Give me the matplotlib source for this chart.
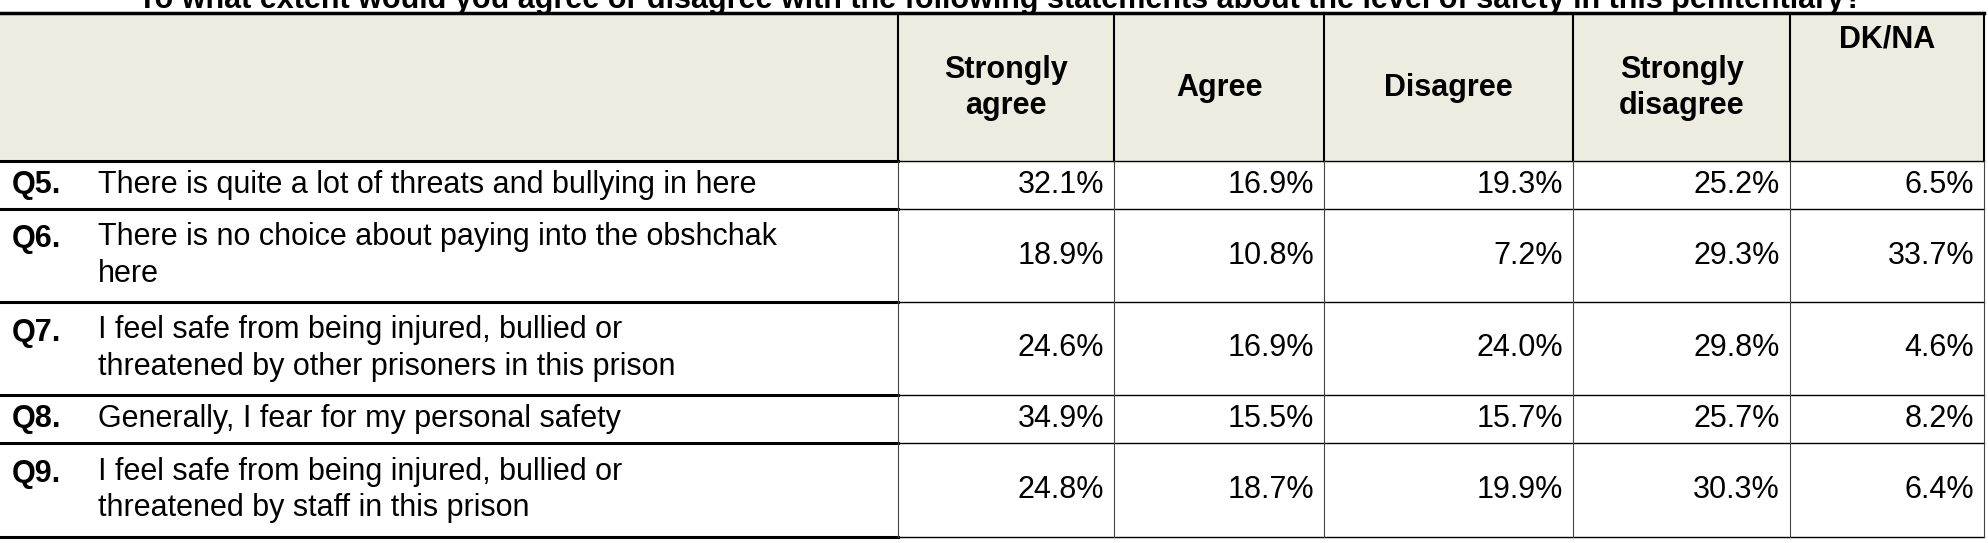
import matplotlib.pyplot as plt

plt.rcParams['font.family'] = ['Liberation Sans Narrow', 'Liberation Sans', 'DejaVu Sans']

title = "To what extent would you agree or disagree with the following statements about the level of safety in this penitentiary?"
columns = ["Strongly\nagree", "Agree", "Disagree", "Strongly\ndisagree", "DK/NA"]
qnums = ["Q5.", "Q6.", "Q7.", "Q8.", "Q9."]
questions = [
    "There is quite a lot of threats and bullying in here",
    "There is no choice about paying into the obshchak\nhere",
    "I feel safe from being injured, bullied or\nthreatened by other prisoners in this prison",
    "Generally, I fear for my personal safety",
    "I feel safe from being injured, bullied or\nthreatened by staff in this prison",
]
strongly_agree = [32.1, 18.9, 24.6, 34.9, 24.8]
agree = [16.9, 10.8, 16.9, 15.5, 18.7]
disagree = [19.3, 7.2, 24.0, 15.7, 19.9]
strongly_disagree = [25.2, 29.3, 29.8, 25.7, 30.3]
dkna = [6.5, 33.7, 4.6, 8.2, 6.4]
values = [strongly_agree, agree, disagree, strongly_disagree, dkna]

# layout in pixels
xcols = [0, 898, 1114, 1324, 1573, 1790, 1984]
ytop, yhead = 13, 161
yrows = [161, 209, 302, 395, 443, 537]
fs = 22

fig = plt.figure(figsize=(19.88, 5.43), dpi=100)
ax = fig.add_axes([0, 0, 1, 1])
ax.set_xlim(0, 1988)
ax.set_ylim(543, 0)
ax.axis('off')

ax.text(1000, 0, title, fontsize=fs, fontweight='bold', ha='center', va='center')
ax.fill_between([xcols[0], xcols[-1]], ytop, yhead, color='#EEECE1', zorder=0)

# header labels
for i, c in enumerate(columns):
    xc = (xcols[i + 1] + xcols[i + 2]) / 2
    yc = 40 if c == "DK/NA" else 88
    ax.text(xc, yc, c, fontsize=fs, fontweight='bold', ha='center', va='center',
            linespacing=1.3)

# rows
for r in range(len(questions)):
    yc = (yrows[r] + yrows[r + 1]) / 2
    nlines = questions[r].count('\n') + 1
    ytxt = yc - (nlines - 1) * 16
    ax.text(12, ytxt, qnums[r], fontsize=fs, fontweight='bold', ha='left', va='center')
    ax.text(98, yc, questions[r], fontsize=fs, ha='left', va='center', linespacing=1.3)
    for c in range(len(values)):
        ax.text(xcols[c + 2] - 10, yc, f"{values[c][r]:.1f}%", fontsize=fs,
                ha='right', va='center')

# grid lines
ax.plot([xcols[0], xcols[-1]], [ytop, ytop], color='black', lw=2.5)
for y in yrows:
    ax.plot([xcols[0], xcols[1]], [y, y], color='black', lw=2.2)
    ax.plot([xcols[1], xcols[-1]], [y, y], color='black', lw=1.0)
for x in xcols[1:]:
    ax.plot([x, x], [ytop, yhead], color='black', lw=1.5)
    ax.plot([x, x], [yhead, yrows[-1]], color='#444444', lw=0.8)

fig.savefig('out.png', dpi=100)
